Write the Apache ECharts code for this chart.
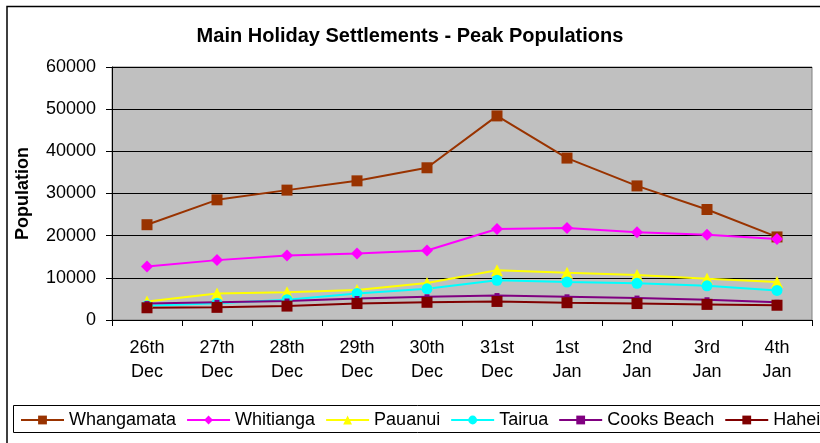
<!DOCTYPE html>
<html>
<head>
<meta charset="utf-8">
<script src="https://cdn.jsdelivr.net/npm/echarts@6/dist/echarts.min.js"></script>
<style>
  html, body { margin: 0; padding: 0; background: #fff; }
  #chart { width: 820px; height: 443px; }
</style>
</head>
<body>
<div id="chart"></div>
<script>
// 横轴分类
const categories = ['26th\nDec', '27th\nDec', '28th\nDec', '29th\nDec', '30th\nDec',
  '31st\nDec', '1st\nJan', '2nd\nJan', '3rd\nJan', '4th\nJan']

// 各地高峰人口
const whangamata = [22600, 28500, 30800, 33000, 36100, 48400, 38400, 31800, 26200, 19700]
const whitianga = [12700, 14200, 15300, 15800, 16500, 21600, 21800, 20800, 20200, 19200]
const pauanui = [4400, 6300, 6600, 7100, 8800, 11800, 11200, 10700, 9800, 9000]
const tairua = [3400, 4000, 4800, 6300, 7400, 9400, 9000, 8700, 8100, 7000]
const cooksBeach = [3900, 4200, 4500, 5100, 5500, 5800, 5500, 5200, 4800, 4200]
const hahei = [2900, 3000, 3300, 3900, 4200, 4400, 4100, 3900, 3700, 3500]

const font = 'Liberation Sans, Arial, sans-serif'

function makeSeries(name, data, color, symbol, size) {
  return {
    name: name,
    type: 'line',
    data: data,
    symbol: symbol,
    symbolSize: size,
    showAllSymbol: true,
    lineStyle: { color: color, width: 2 },
    itemStyle: { color: color, borderWidth: 0 },
    emphasis: { disabled: true },
    animation: false
  }
}

const myChart = echarts.init(document.getElementById('chart'))
const option = {
  animation: false,
  textStyle: { fontFamily: font },
  title: {
    text: 'Main Holiday Settlements - Peak Populations',
    left: 'center',
    top: 21,
    textStyle: { fontSize: 20, fontWeight: 'bold', color: '#000', fontFamily: font }
  },
  graphic: [
    {
      type: 'rect',
      shape: { x: 7, y: 6.5, width: 1000, height: 1000 },
      style: { fill: 'none', stroke: '#000', lineWidth: 1.5 },
      silent: true
    },
    {
      type: 'rect',
      shape: { x: 13.5, y: 405.5, width: 1000, height: 27 },
      style: { fill: 'none', stroke: '#000', lineWidth: 1 },
      silent: true
    }
  ],
  legend: {
    left: 20,
    top: 411,
    width: 1200,
    padding: 0,
    itemWidth: 43,
    itemHeight: 11,
    itemGap: 10,
    textStyle: { fontSize: 18, color: '#000', fontFamily: font },
    data: ['Whangamata', 'Whitianga', 'Pauanui', 'Tairua', 'Cooks Beach', 'Hahei']
  },
  grid: {
    left: 112,
    right: 8,
    top: 67,
    bottom: 123,
    show: true,
    backgroundColor: '#C0C0C0',
    borderColor: '#808080',
    borderWidth: 1
  },
  xAxis: {
    type: 'category',
    data: categories,
    boundaryGap: true,
    axisLine: { lineStyle: { color: '#000', width: 1 } },
    axisTick: { show: true, length: 6, inside: false, lineStyle: { color: '#000' } },
    axisLabel: { fontSize: 18, color: '#000', lineHeight: 24, margin: 16, interval: 0, fontFamily: font }
  },
  yAxis: {
    type: 'value',
    min: 0,
    max: 60000,
    interval: 10000,
    name: 'Population',
    nameLocation: 'middle',
    nameGap: 80,
    nameTextStyle: { fontSize: 18, fontWeight: 'bold', color: '#000', fontFamily: font },
    axisLine: { show: true, lineStyle: { color: '#000', width: 1 } },
    axisTick: { show: true, length: 6, lineStyle: { color: '#000' } },
    axisLabel: {
      fontSize: 18,
      color: '#000',
      margin: 16,
      fontFamily: font,
      formatter: function(v) { return String(v) }
    },
    splitLine: { show: true, lineStyle: { color: '#000', width: 1 } }
  },
  series: [
    makeSeries('Whangamata', whangamata, '#993300', 'rect', 11),
    makeSeries('Whitianga', whitianga, '#FF00FF', 'diamond', 12),
    makeSeries('Pauanui', pauanui, '#FFFF00', 'triangle', 12),
    makeSeries('Tairua', tairua, '#00FFFF', 'circle', 11),
    makeSeries('Cooks Beach', cooksBeach, '#800080', 'rect', 5),
    makeSeries('Hahei', hahei, '#800000', 'rect', 11)
  ]
}
myChart.setOption(option)
</script>
</body>
</html>
